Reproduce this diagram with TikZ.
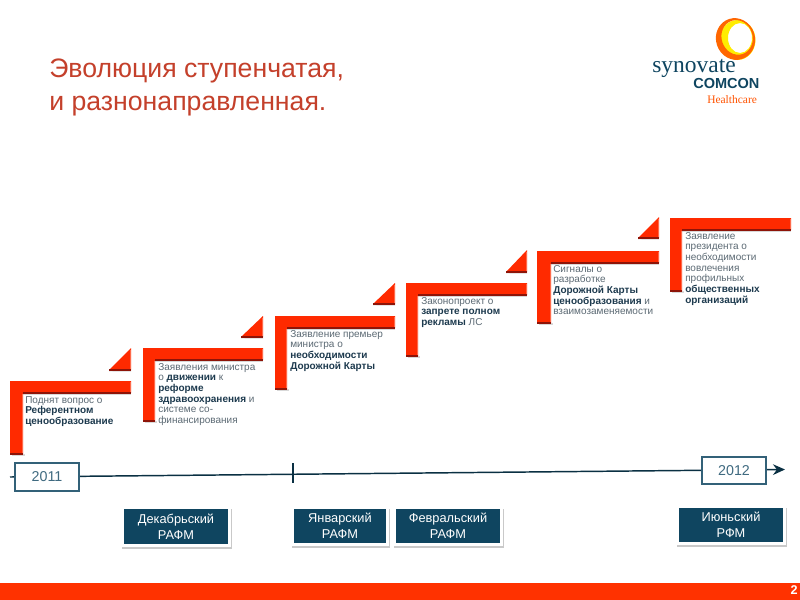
\documentclass[tikz,border=0pt]{standalone}
\usepackage{fontspec}
\setmainfont{Liberation Sans}
\newfontfamily\logoserif{Liberation Serif}
\usetikzlibrary{arrows.meta}
\definecolor{rednew}{HTML}{FF2A00}
\definecolor{reddark}{HTML}{8E1408}
\definecolor{redlight}{HTML}{FF6A4A}
\definecolor{navy}{HTML}{0F4560}
\definecolor{greytxt}{HTML}{5C6A74}
\definecolor{darktxt}{HTML}{1D3A4E}
\definecolor{titlered}{HTML}{C4402B}
\tikzset{
  x=0.75pt,y=-0.75pt,
  steptext/.style={anchor=north west,inner sep=0pt,align=left,text=greytxt,font=\fontsize{7.5}{8}\selectfont},
  yearbox/.style={draw=navy!85,line width=1.3pt,fill=white,inner sep=0pt,outer sep=0pt,text=navy!80,font=\fontsize{10.7}{13}\selectfont,anchor=north west},
  rafmbox/.style={fill=navy,inner sep=0pt,outer sep=0pt,text=white,align=center,anchor=north west,font=\fontsize{9.6}{12}\selectfont},
  rafmframe/.style={fill=white},
  rafmshadow/.style={fill=black!35,opacity=.6},
  timeline/.style={draw=navy!70!black,line width=1.1pt},
}
\newcommand{\dk}[1]{{\bfseries\color{darktxt}#1}}
% x, y, width, height, thickness
\newcommand{\lstep}[5]{%
  \begin{scope}[shift={(#1,#2)}]
    \fill[black!25,opacity=.6] (1.5,#4) -- (#5+2,#4) -- (#5+2,#4+2) -- (1.5,#4+2) -- cycle;
    \fill[black!25,opacity=.6] (#5,12) -- (#3,12) -- (#3,14) -- (#5,14) -- cycle;
    \fill[rednew] (0,0) -- (#3,0) -- (#3,12) -- (#5,12) -- (#5,#4) -- (0,#4) -- cycle;
    \draw[reddark,line width=.9pt] (#5,12) -- (#3,12);
    \draw[reddark,line width=.9pt] (0,#4) -- (#5,#4);
    \draw[redlight,line width=.7pt] (#5-.5,12.5) -- (#5-.5,#4-.6);
    \draw[redlight,line width=.6pt] (#3-.3,.5) -- (#3-.3,11);
  \end{scope}}
% left x, base y, tip x, tip y
\newcommand{\ltri}[4]{%
  \fill[black!25,opacity=.6] (#1,#2+1.5) -- (#3,#2+1.5) -- (#3,#2) -- cycle;
  \fill[rednew] (#1,#2) -- (#3,#4) -- (#3,#2) -- cycle;
  \draw[reddark,line width=.9pt] (#1,#2) -- (#3,#2);
  \draw[redlight,line width=.6pt] (#3-.3,#4+2) -- (#3-.3,#2-1);}
% x0 y0 x1 y1 of the coloured area: shadow and white frame behind the box
\newcommand{\rafmback}[4]{%
  \fill[rafmshadow] (#1-2,#2) rectangle (#3+4,#4+5);
  \fill[rafmframe] (#1-3,#2-3) rectangle (#3+3,#4+3);}
\begin{document}
\begin{tikzpicture}
\useasboundingbox (0,0) rectangle (800,600);
\fill[white] (0,0) rectangle (800,600);

% title
\node[anchor=west,inner sep=0pt,text=titlered,font=\fontsize{20}{24.8}\selectfont,align=left] (title) at (49,87.5) {Эволюция ступенчатая,\\и разнонаправленная.};

% logo
\fill[yellow!95!orange,even odd rule] (737.5,40) ellipse (18 and 20) (740,38) ellipse (12 and 15);
\fill[orange!80!red,even odd rule,rotate around={18:(735.5,39)}] (735.5,39) ellipse (19.5 and 21) (737.5,38) ellipse (15.5 and 17.5);
\node[anchor=base west,inner sep=0pt,text=navy,font=\logoserif\fontsize{17.6}{18}\selectfont] (syn) at (652,72) {synovate};
\node[anchor=base west,inner sep=0pt,text=navy,font=\bfseries\fontsize{10.9}{12}\selectfont] (com) at (693,88) {COMCON};
\node[anchor=base west,inner sep=0pt,text=orange!65!red,font=\logoserif\fontsize{8.6}{9}\selectfont] (hc) at (707,103) {Healthcare};

% steps
\lstep{10}{381}{121}{73}{13}
\ltri{109}{370}{131}{348}
\lstep{143}{348}{120}{73}{12}
\ltri{241}{337}{263}{316}
\lstep{275}{316}{120}{73}{12}
\ltri{373}{304}{395}{283}
\lstep{406}{283}{121}{73}{12}
\ltri{506}{272}{527}{250}
\lstep{537}{251}{122}{72}{14}
\ltri{638}{238}{659}{217}
\lstep{670}{218}{121}{73}{12}

\node[steptext] (t1) at (25,396) {Поднят вопрос о\\\dk{Референтном}\\\dk{ценообразование}};
\node[steptext] (t2) at (158,363) {Заявления министра\\о \dk{движении} к\\\dk{реформе}\\\dk{здравоохранения} и\\системе со-\\финансирования};
\node[steptext] (t3) at (290,330) {Заявление премьер\\министра о\\\dk{необходимости}\\\dk{Дорожной Карты}};
\node[steptext] (t4) at (421,297) {Законопроект о\\\dk{запрете полном}\\\dk{рекламы} ЛС};
\node[steptext] (t5) at (553,265) {Сигналы о\\разработке\\\dk{Дорожной Карты}\\\dk{ценообразования} и\\взаимозаменяемости};
\node[steptext] (t6) at (685,232) {Заявление\\президента о\\необходимости\\вовлечения\\профильных\\\dk{общественных}\\\dk{организаций}};

% timeline
\coordinate (tlstart) at (10,477);
\coordinate (tlend) at (785,469.5);
\coordinate (ticktop) at (293,463);
\coordinate (tickbot) at (293,483);
\draw[timeline,-{Stealth[length=9pt,width=8pt]}] (tlstart) -- (tlend);
\draw[timeline] (ticktop) -- (tickbot);
\node[yearbox,minimum width=48pt,minimum height=21pt] (y2011) at (15,463) {2011};
\node[yearbox,minimum width=48pt,minimum height=20pt] (y2012) at (702,457) {2012};

% RAFM boxes
\rafmback{124}{509}{228}{544}
\rafmback{294}{509}{386}{543}
\rafmback{396}{509}{500}{543}
\rafmback{679}{508}{783}{542}
\node[rafmbox,minimum width=78pt,minimum height=26.25pt] (dec) at (124,509) {Декабрьский\\РАФМ};
\node[rafmbox,minimum width=69pt,minimum height=25.5pt] (jan) at (294,509) {Январский\\РАФМ};
\node[rafmbox,minimum width=78pt,minimum height=25.5pt] (feb) at (396,509) {Февральский\\РАФМ};
\node[rafmbox,minimum width=78pt,minimum height=25.5pt] (jun) at (679,508) {Июньский\\РФМ};

% bottom bar
\fill[rednew!90!orange] (0,583) rectangle (800,600);
\node[anchor=east,inner sep=0pt,text=white,font=\bfseries\fontsize{9.5}{10}\selectfont] (pg) at (798,590.5) {2};
\end{tikzpicture}
\end{document}
